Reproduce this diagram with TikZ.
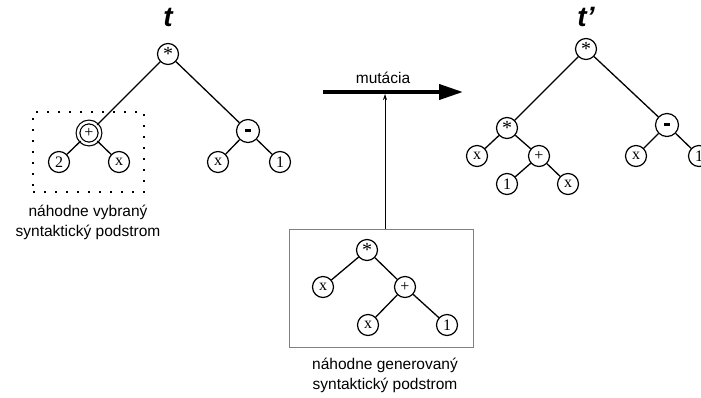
\documentclass[tikz,border=0pt]{standalone}
\usepackage{fontspec}
\setmainfont{Liberation Serif}
\setsansfont{Liberation Sans}
\usetikzlibrary{arrows.meta}
\begin{document}
\begin{tikzpicture}[x=1pt,y=-1pt,
  tn/.style={circle,draw,line width=1.2pt,minimum size=21pt,inner sep=0pt,font=\fontsize{16}{16}\selectfont},
  dn/.style={circle,draw,double,double distance=2.5pt,line width=1.2pt,minimum size=22pt,inner sep=0pt,font=\fontsize{16}{16}\selectfont},
  ed/.style={line width=1.3pt},
  lbl/.style={font=\sffamily\fontsize{15.5}{20}\selectfont,align=center},
  tl/.style={font=\sffamily\bfseries\itshape\fontsize{28}{28}\selectfont}]
\useasboundingbox (0,0) rectangle (701,397);
\newcommand{\opstar}{\raisebox{-4.5pt}{\fontsize{20}{20}\selectfont *}}
\newcommand{\opminus}{\rule[1pt]{5.5pt}{3pt}}
% left tree
\node[tl] (t1) at (168,17) {t};
\node[tn] (a) at (168,54) {\opstar};
\node[dn] (b) at (89,133) {+};
\node[tn] (b1) at (59,162) {2};
\node[tn] (b2) at (119,162) {x};
\node[tn,minimum size=23pt] (c) at (248,131) {\opminus};
\node[tn] (c1) at (218,162) {x};
\node[tn] (c2) at (280,162) {1};
\draw[ed] (a) -- (b) (a) -- (c) (b) -- (b1) (b) -- (b2) (c) -- (c1) (c) -- (c2);
\node[draw,line width=1.8pt,dash pattern=on 1.8pt off 9.2pt,minimum width=111pt,minimum height=80pt,inner sep=0pt] (sel) at (88.5,152) {};
\node[lbl] (sellbl) at (88,222) {náhodne vybraný\\syntaktický podstrom};
% right tree
\node[tl] (t2) at (586,17) {t’};
\node[tn] (r) at (586,49) {\opstar};
\node[tn] (r1) at (507,128) {\opstar};
\node[tn] (r11) at (477,156) {x};
\node[tn] (r12) at (539,156) {+};
\node[tn] (r121) at (507,184) {1};
\node[tn] (r122) at (568,184) {x};
\node[tn,minimum size=23pt] (r2) at (667,125) {\opminus};
\node[tn] (r21) at (636,156) {x};
\node[tn] (r22) at (699,156) {1};
\draw[ed] (r) -- (r1) (r) -- (r2) (r1) -- (r11) (r1) -- (r12) (r12) -- (r121) (r12) -- (r122) (r2) -- (r21) (r2) -- (r22);
% mutation arrow
\coordinate (ms) at (323,92);
\coordinate (me) at (463,92);
\draw[line width=4pt,-{Triangle[length=24pt,width=15pt]}] (ms) -- (me);
\node[font=\sffamily\fontsize{15.5}{15}\selectfont] (mut) at (383,78) {mutácia};
% generated subtree box
\node[draw=gray,line width=1pt,minimum width=184pt,minimum height=118pt,inner sep=0pt] (gbox) at (381,288) {};
\coordinate (gtop) at (385,229);
\coordinate (atip) at (385,94);
\draw[line width=0.8pt,-{Stealth[length=6pt,width=4pt]}] (gtop) -- (atip);
\node[tn] (g) at (367,250) {\opstar};
\node[tn] (g1) at (323,287) {x};
\node[tn] (g2) at (405,287) {+};
\node[tn] (g21) at (368,325) {x};
\node[tn] (g22) at (447,325) {1};
\draw[ed] (g) -- (g1) (g) -- (g2) (g2) -- (g21) (g2) -- (g22);
\node[lbl] (genlbl) at (385,375) {náhodne generovaný\\syntaktický podstrom};
\end{tikzpicture}
\end{document}
